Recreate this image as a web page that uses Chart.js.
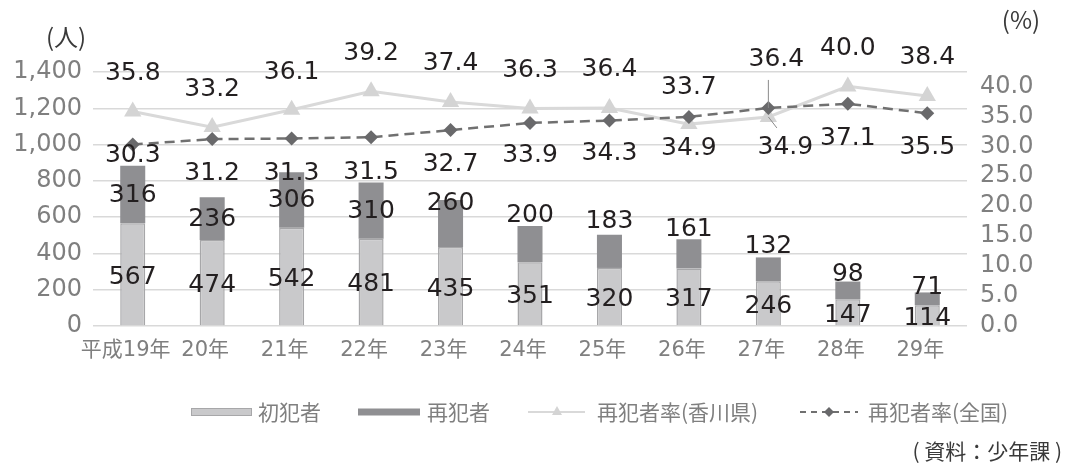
<!DOCTYPE html>
<html lang="ja">
<head>
<meta charset="utf-8">
<title>少年の再犯者数と再犯者率</title>
<script src="https://cdn.jsdelivr.net/npm/chart.js@4/dist/chart.umd.min.js"></script>
<style>
  html, body { margin: 0; padding: 0; background: #fff; }
  #wrap { position: relative; width: 1069px; height: 466px; }
</style>
</head>
<body>
<div id="wrap"><canvas id="chart"></canvas></div>
<script>
const years = ["平成19年", "20年", "21年", "22年", "23年", "24年", "25年", "26年", "27年", "28年", "29年"];
const firstOffenders = [567, 474, 542, 481, 435, 351, 320, 317, 246, 147, 114];
const repeatOffenders = [316, 236, 306, 310, 260, 200, 183, 161, 132, 98, 71];
const rateKagawa = [35.8, 33.2, 36.1, 39.2, 37.4, 36.3, 36.4, 33.7, 34.9, 40.0, 38.4];
const rateNational = [30.3, 31.2, 31.3, 31.5, 32.7, 33.9, 34.3, 34.9, 36.4, 37.1, 35.5];
const countTicks = [0, 200, 400, 600, 800, 1000, 1200, 1400];
const rateTicks = [0, 5, 10, 15, 20, 25, 30, 35, 40];

// label nudges (the printed chart moved some labels by hand)
const repeatLabelShift = [0, 0, 0, 0, -21, -30, -31, -25, -24, -17, -12];
const kagawaLabelDy = [-38, -38, -37, -38, -38, -38, -38, -37, 31, -38, -38];
const kagawaLabelDx = [0, 0, 0, 0, 0, 0, 0, 0, 17, 0, 0];
const nationalLabelDy = [11, 34, 35, 35, 34, 33, 33, 32, -48, 35, 34];
const nationalLabelDx = [0, 0, 0, 0, 0, 0, 0, 0, 8, 0, 0];

const FONT = "'DejaVu Sans', 'Noto Sans CJK JP', sans-serif";
const JP = "'Noto Sans CJK JP', sans-serif";

const colors = {
  first: "#c9c9cb",
  firstBorder: "#a7a7a9",
  repeat: "#8f8f92",
  kagawa: "#d9d9d9",
  kagawaPoint: "#d4d4d4",
  national: "#707070",
  nationalPoint: "#69696b",
  grid: "#d9d9d9",
  tick: "#7f7f7f",
  label: "#231f20",
};

// leader line: straight up for labels above, slanted toward labels below
function drawLeader(ctx, px, py, lx, ly) {
  const below = ly > py;
  const ex = below ? lx - (lx - px) * 0.5 : px;
  const ey = below ? ly - 20 : ly + 20;
  ctx.save();
  ctx.strokeStyle = "#8a8a8a";
  ctx.lineWidth = 1;
  ctx.beginPath();
  ctx.moveTo(px, py);
  ctx.lineTo(ex, ey);
  ctx.stroke();
  ctx.restore();
}

const valueLabels = {
  id: "valueLabels",
  afterDatasetsDraw(chart) {
    const ctx = chart.ctx;
    ctx.save();
    ctx.font = "25px " + FONT;
    ctx.fillStyle = colors.label;
    ctx.textAlign = "center";
    ctx.textBaseline = "middle";

    chart.getDatasetMeta(0).data.forEach((bar, i) => {
      ctx.fillText(String(firstOffenders[i]), bar.x, (bar.y + bar.base) / 2 + 3);
    });
    chart.getDatasetMeta(1).data.forEach((bar, i) => {
      ctx.fillText(String(repeatOffenders[i]), bar.x, (bar.y + bar.base) / 2 + 1 + repeatLabelShift[i]);
    });

    chart.getDatasetMeta(2).data.forEach((pt, i) => {
      const lx = pt.x + kagawaLabelDx[i];
      const ly = pt.y + kagawaLabelDy[i];
      if (kagawaLabelDx[i] !== 0) drawLeader(ctx, pt.x, pt.y, lx, ly);
      ctx.fillText(rateKagawa[i].toFixed(1), lx, ly);
    });
    chart.getDatasetMeta(3).data.forEach((pt, i) => {
      const lx = pt.x + nationalLabelDx[i];
      const ly = pt.y + nationalLabelDy[i];
      if (nationalLabelDx[i] !== 0) drawLeader(ctx, pt.x, pt.y, lx, ly);
      ctx.fillText(rateNational[i].toFixed(1), lx, ly);
    });
    ctx.restore();
  },
};

// legend, axis units and source note
const extras = {
  id: "extras",
  afterDraw(chart) {
    const ctx = chart.ctx;
    ctx.save();
    ctx.textBaseline = "middle";

    ctx.fillStyle = "#3a3a3a";
    ctx.font = "24px " + JP;
    ctx.textAlign = "center";
    ctx.fillText("(人)", 66, 37);
    ctx.fillText("(%)", 1021, 20);

    const ly = 412;
    ctx.font = "21px " + JP;
    ctx.textAlign = "left";

    ctx.fillStyle = colors.first;
    ctx.fillRect(191, ly - 3.5, 61, 7);
    ctx.strokeStyle = colors.firstBorder;
    ctx.lineWidth = 1;
    ctx.strokeRect(191.5, ly - 3.5, 60, 7);
    ctx.fillStyle = colors.tick;
    ctx.fillText("初犯者", 258, ly);

    ctx.fillStyle = colors.repeat;
    ctx.fillRect(358, ly - 3.5, 62, 7);
    ctx.fillStyle = colors.tick;
    ctx.fillText("再犯者", 427, ly);

    ctx.strokeStyle = colors.kagawa;
    ctx.lineWidth = 2;
    ctx.beginPath();
    ctx.moveTo(528, ly);
    ctx.lineTo(585, ly);
    ctx.stroke();
    ctx.fillStyle = colors.kagawaPoint;
    ctx.beginPath();
    ctx.moveTo(557, ly - 6);
    ctx.lineTo(562, ly + 3);
    ctx.lineTo(552, ly + 3);
    ctx.closePath();
    ctx.fill();
    ctx.fillStyle = colors.tick;
    ctx.fillText("再犯者率(香川県)", 597, ly);

    ctx.strokeStyle = colors.national;
    ctx.lineWidth = 2;
    ctx.setLineDash([6, 5]);
    ctx.beginPath();
    ctx.moveTo(800, ly);
    ctx.lineTo(858, ly);
    ctx.stroke();
    ctx.setLineDash([]);
    ctx.fillStyle = colors.nationalPoint;
    ctx.beginPath();
    ctx.moveTo(829, ly - 5);
    ctx.lineTo(834, ly);
    ctx.lineTo(829, ly + 5);
    ctx.lineTo(824, ly);
    ctx.closePath();
    ctx.fill();
    ctx.fillStyle = colors.tick;
    ctx.fillText("再犯者率(全国)", 868, ly);

    ctx.fillStyle = "#3a3a3a";
    ctx.textAlign = "right";
    ctx.fillText("( 資料：少年課 )", 1062, 451);
    ctx.restore();
  },
};

new Chart(document.getElementById("chart"), {
  type: "bar",
  data: {
    labels: years,
    datasets: [
      {
        label: "初犯者",
        data: firstOffenders,
        backgroundColor: colors.first,
        borderColor: colors.firstBorder,
        borderWidth: 1.5,
        yAxisID: "y",
        stack: "people",
        order: 2,
        barPercentage: 0.9,
        categoryPercentage: 0.35,
      },
      {
        label: "再犯者",
        data: repeatOffenders,
        backgroundColor: colors.repeat,
        borderColor: colors.repeat,
        borderWidth: 0,
        yAxisID: "y",
        stack: "people",
        order: 2,
        barPercentage: 0.9,
        categoryPercentage: 0.35,
      },
      {
        type: "line",
        label: "再犯者率(香川県)",
        data: rateKagawa,
        yAxisID: "y1",
        borderColor: colors.kagawa,
        borderWidth: 3,
        pointStyle: "triangle",
        pointRadius: 10,
        pointBackgroundColor: colors.kagawaPoint,
        pointBorderWidth: 0,
        tension: 0,
        order: 1,
      },
      {
        type: "line",
        label: "再犯者率(全国)",
        data: rateNational,
        yAxisID: "y1",
        borderColor: colors.national,
        borderWidth: 2.5,
        borderDash: [10, 6],
        pointStyle: "rectRot",
        pointRadius: 7,
        pointBackgroundColor: colors.nationalPoint,
        pointBorderWidth: 0,
        tension: 0,
        order: 0,
      },
    ],
  },
  options: {
    responsive: true,
    maintainAspectRatio: false,
    animation: false,
    layout: { padding: { top: 72, bottom: 100, left: 0, right: 0 } },
    font: { family: FONT },
    plugins: {
      legend: { display: false },
      tooltip: { enabled: false },
    },
    scales: {
      x: {
        stacked: true,
        grid: { display: false, drawTicks: false },
        border: { display: false },
        ticks: {
          color: colors.tick,
          font: { family: FONT, size: 21 },
          padding: 12,
          labelOffset: -7,
          maxRotation: 0,
          autoSkip: false,
        },
        afterFit(scale) { scale.height = 40; },
      },
      y: {
        stacked: true,
        position: "left",
        min: 0,
        max: 1400,
        afterBuildTicks(scale) { scale.ticks = countTicks.map((v) => ({ value: v })); },
        ticks: {
          color: colors.tick,
          font: { family: FONT, size: 24 },
          padding: 11,
          autoSkip: false,
          callback: (v) => v.toLocaleString("en-US"),
        },
        grid: { color: colors.grid, lineWidth: 1.5, drawTicks: false },
        border: { display: false },
        afterFit(scale) { scale.width = 93; },
      },
      y1: {
        position: "right",
        min: 0,
        max: 42.4,
        afterBuildTicks(scale) { scale.ticks = rateTicks.map((v) => ({ value: v })); },
        ticks: {
          color: colors.tick,
          font: { family: FONT, size: 24 },
          padding: 13,
          autoSkip: false,
          callback: (v) => v.toFixed(1),
        },
        grid: { display: false, drawTicks: false },
        border: { display: false },
        afterFit(scale) { scale.width = 102; },
      },
    },
  },
  plugins: [valueLabels, extras],
});
</script>
</body>
</html>
